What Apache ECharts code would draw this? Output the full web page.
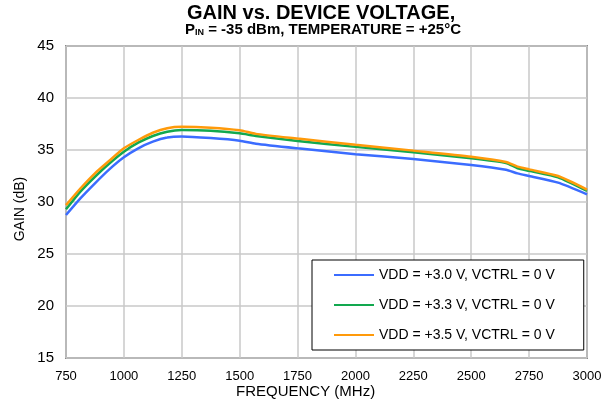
<!DOCTYPE html>
<html>
<head>
<meta charset="utf-8">
<script src="https://cdn.jsdelivr.net/npm/echarts@6/dist/echarts.min.js"></script>
<style>
  html, body { margin: 0; padding: 0; background: #fff; }
  #chart { width: 607px; height: 405px; }
</style>
</head>
<body>
<div id="chart"></div>
<script>
// frequency points (MHz)
var freq = [750, 812, 875, 937, 1000, 1062, 1125, 1187, 1250, 1375, 1500, 1570, 1750, 2000, 2250, 2500, 2650, 2700, 2750, 2875, 3000];
// gain (dB) for each supply setting
var gain30 = [28.75, 30.35, 31.8, 33.14, 34.3, 35.16, 35.8, 36.2, 36.3, 36.15, 35.9, 35.6, 35.16, 34.6, 34.13, 33.56, 33.1, 32.75, 32.5, 31.86, 30.74];
var gain33 = [29.3, 31.0, 32.43, 33.7, 34.84, 35.7, 36.35, 36.76, 36.92, 36.85, 36.6, 36.35, 35.87, 35.3, 34.78, 34.2, 33.75, 33.25, 33.0, 32.37, 31.06];
var gain35 = [29.7, 31.3, 32.76, 33.97, 35.16, 35.96, 36.66, 37.1, 37.24, 37.15, 36.9, 36.55, 36.1, 35.5, 34.94, 34.36, 33.85, 33.4, 33.14, 32.5, 31.2];
var seriesNames = ['VDD = +3.0 V, VCTRL = 0 V', 'VDD = +3.3 V, VCTRL = 0 V', 'VDD = +3.5 V, VCTRL = 0 V'];
var seriesColors = ['#3b6cff', '#12a84f', '#ff9a0a'];

var chart = echarts.init(document.getElementById('chart'), null, {renderer: 'canvas'});
var font = 'Arial, "Liberation Sans", sans-serif';

function pairs(ys) {
  return freq.map(function(f, i) { return [f, ys[i]]; });
}

var allGain = [gain30, gain33, gain35];
var seriesList = [];
for (var i = 0; i < allGain.length; i++) {
  seriesList.push({
    name: seriesNames[i],
    type: 'line',
    data: pairs(allGain[i]),
    smooth: 0.2,
    showSymbol: false,
    lineStyle: { color: seriesColors[i], width: 2.5 },
    itemStyle: { color: seriesColors[i] },
    z: 3 + i
  });
}

var option = {
  animation: false,
  backgroundColor: '#fff',
  graphic: [
    {
      type: 'text', left: 187, top: 3,
      style: { text: 'GAIN vs. DEVICE VOLTAGE,', font: 'bold 20px ' + font, fill: '#000' }
    },
    {
      type: 'text', left: 185, top: 22,
      style: {
        text: '{p|P}{sub|IN}{p| = -35 dBm, TEMPERATURE = +25°C}',
        rich: {
          p: { font: 'bold 15px ' + font, fill: '#000' },
          sub: { font: 'bold 9px ' + font, fill: '#000', verticalAlign: 'bottom', padding: [7, 0, 0, 0] }
        }
      }
    },
    {
      type: 'text', left: 236, top: 384,
      style: { text: 'FREQUENCY (MHz)', font: '15px ' + font, fill: '#000' }
    },
    {
      type: 'text', x: 20, y: 209, rotation: Math.PI / 2,
      style: { text: 'GAIN (dB)', font: '14px ' + font, fill: '#000', align: 'center', verticalAlign: 'middle' }
    }
  ],
  grid: {
    left: 66, right: 20, top: 46, bottom: 47,
    show: true, borderColor: '#8a8a8a', borderWidth: 2, backgroundColor: 'transparent'
  },
  legend: {
    data: seriesNames,
    orient: 'vertical',
    left: 312, top: 260,
    icon: 'rect',
    itemWidth: 40, itemHeight: 2,
    itemGap: 16,
    padding: [8, 29, 8, 22],
    backgroundColor: '#fff',
    borderColor: '#000', borderWidth: 1,
    textStyle: { fontFamily: font, fontSize: 14, color: '#000', lineHeight: 14 }
  },
  xAxis: {
    type: 'value', min: 750, max: 3000, interval: 250,
    axisLine: { show: false },
    axisTick: { show: false },
    axisLabel: { fontFamily: font, fontSize: 13, color: '#000', margin: 12, formatter: function(v) { return String(v); } },
    splitLine: { lineStyle: { color: '#c8c8c8', width: 1.5 } }
  },
  yAxis: {
    type: 'value', min: 15, max: 45, interval: 5,
    axisLine: { show: false },
    axisTick: { show: false },
    axisLabel: { fontFamily: font, fontSize: 15, color: '#000', margin: 12 },
    splitLine: { lineStyle: { color: '#c8c8c8', width: 1.5 } }
  },
  series: seriesList
};
chart.setOption(option);
</script>
</body>
</html>
